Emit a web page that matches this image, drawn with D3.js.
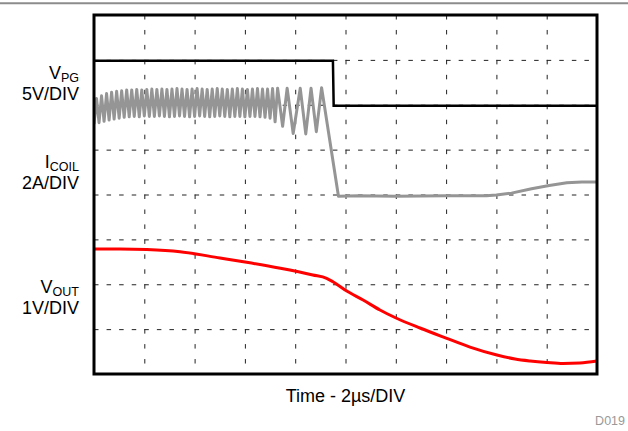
<!DOCTYPE html>
<html>
<head>
<meta charset="utf-8">
<script src="https://cdn.jsdelivr.net/npm/d3@7"></script>
<style>
  html, body { margin: 0; padding: 0; background: #fff; }
  svg { display: block; }
  text { font-family: "Liberation Sans", Arial, Helvetica, sans-serif; }
</style>
</head>
<body>
<svg id="chart" width="628" height="431"></svg>
<script>
// ---------------- data (time in µs, level in screen divisions from bottom) ----------------
const xGridTimes = [2, 4, 6, 8, 10, 12, 14, 16, 18];
const yGridLevels = [1, 2, 3, 4, 5, 6, 7];

const vpgTime  = [0, 9.5, 9.53, 20];
const vpgLevel = [6.98, 6.98, 5.98, 5.98];

const icoilTime = [
  0, 0.1, 0.2, 0.3, 0.4, 0.5, 0.6, 0.7, 0.8, 0.9,
  1.0, 1.1, 1.2, 1.3, 1.4, 1.5, 1.6, 1.7, 1.8, 1.9,
  2.0, 2.1, 2.2, 2.3, 2.4, 2.5, 2.6, 2.7, 2.8, 2.9,
  3.0, 3.1, 3.2, 3.3, 3.4, 3.5, 3.6, 3.7, 3.8, 3.9,
  4.0, 4.1, 4.2, 4.3, 4.4, 4.5, 4.6, 4.7, 4.8, 4.9,
  5.0, 5.1, 5.2, 5.3, 5.4, 5.5, 5.6, 5.7, 5.8, 5.9,
  6.0, 6.1, 6.2, 6.3, 6.4, 6.5, 6.6, 6.7, 6.8, 6.9,
  7.0, 7.1, 7.2, 7.3,
  7.5, 7.68, 7.92, 8.2, 8.42, 8.63, 8.84, 9.05,
  9.72, 10.5, 12.0, 14.0, 15.6, 16.0, 16.6, 17.4, 18.1, 18.8, 19.4, 20.0
];
const icoilLevel = [
  5.57, 6.14, 5.60, 6.20, 5.63, 6.25, 5.66, 6.28, 5.68, 6.30,
  5.70, 6.31, 5.72, 6.33, 5.73, 6.33, 5.74, 6.34, 5.73, 6.33,
  5.75, 6.34, 5.74, 6.35, 5.74, 6.34, 5.75, 6.35, 5.74, 6.34,
  5.73, 6.35, 5.74, 6.36, 5.75, 6.35, 5.74, 6.34, 5.73, 6.35,
  5.74, 6.36, 5.75, 6.35, 5.74, 6.34, 5.73, 6.35, 5.74, 6.36,
  5.75, 6.35, 5.74, 6.34, 5.73, 6.35, 5.74, 6.36, 5.74, 6.35,
  5.73, 6.34, 5.74, 6.35, 5.74, 6.36, 5.73, 6.35, 5.72, 6.35,
  5.70, 6.36, 5.62, 6.37,
  5.52, 6.37, 5.36, 6.37, 5.35, 6.37, 5.40, 6.38,
  3.96, 3.97, 3.96, 3.97, 3.97, 3.99, 4.03, 4.13, 4.20, 4.26, 4.28, 4.28
];

const voutTime  = [0, 1.03, 2.10, 3.42, 5.01, 6.07, 7.41, 8.70, 9.25, 9.50, 10.05, 10.70, 11.37, 12.01, 12.96, 14.0, 14.95, 16.02, 16.74, 17.34, 18.01, 18.65, 19.32, 20.0];
const voutLevel = [2.786, 2.786, 2.774, 2.725, 2.585, 2.489, 2.355, 2.206, 2.133, 2.057, 1.85, 1.649, 1.426, 1.248, 1.025, 0.80, 0.60, 0.423, 0.334, 0.29, 0.256, 0.234, 0.245, 0.29];

// ---------------- layout ----------------
const svg = d3.select("#chart");
const pL = 94, pR = 597, pT = 15, pB = 374;
const W = pR - pL, H = pB - pT;

const x = d3.scaleLinear().domain([0, 20]).range([pL, pR]);
const y = d3.scaleLinear().domain([0, 8]).range([pB, pT]);

// top separator rule
svg.append("line").attr("x1", 0).attr("x2", 628).attr("y1", 3.3).attr("y2", 3.3)
  .attr("stroke", "#8c8c8c").attr("stroke-width", 2);

// grid via axes
const gx = svg.append("g").attr("transform", `translate(0,${pT})`)
  .call(d3.axisTop(x).tickValues(xGridTimes).tickSize(-H).tickFormat(""));
gx.select(".domain").remove();
gx.selectAll(".tick line").attr("stroke", "#222").attr("stroke-width", 1)
  .attr("stroke-dasharray", "4.5," + (H / 24 - 4.5));

const gy = svg.append("g").attr("transform", `translate(${pL},0)`)
  .call(d3.axisLeft(y).tickValues(yGridLevels).tickSize(-W).tickFormat(""));
gy.select(".domain").remove();
gy.selectAll(".tick line").attr("stroke", "#222").attr("stroke-width", 1)
  .attr("stroke-dasharray", "4.5," + (W / 40 - 4.5));

// clip
svg.append("clipPath").attr("id", "clip").append("rect")
  .attr("x", pL).attr("y", pT).attr("width", W).attr("height", H);

const line = d3.line().x(d => x(d[0])).y(d => y(d[1]));
const plot = svg.append("g").attr("clip-path", "url(#clip)");

plot.append("path").datum(d3.zip(icoilTime, icoilLevel)).attr("d", line)
  .attr("fill", "none").attr("stroke", "#959595").attr("stroke-width", 3).attr("stroke-linejoin", "round");
plot.append("path").datum(d3.zip(vpgTime, vpgLevel)).attr("d", line)
  .attr("fill", "none").attr("stroke", "#000").attr("stroke-width", 2.5);
plot.append("path").datum(d3.zip(voutTime, voutLevel))
  .attr("d", d3.line().x(d => x(d[0])).y(d => y(d[1])).curve(d3.curveMonotoneX))
  .attr("fill", "none").attr("stroke", "#ff0000").attr("stroke-width", 3);

// frame
svg.append("rect").attr("x", pL).attr("y", pT).attr("width", W).attr("height", H)
  .attr("fill", "none").attr("stroke", "#000").attr("stroke-width", 3);

// channel labels
function chanLabel(main, sub, scale, yBase) {
  const t = svg.append("text").attr("x", 79).attr("y", yBase).attr("text-anchor", "end")
    .attr("font-size", 18).attr("fill", "#000");
  t.append("tspan").text(main);
  t.append("tspan").attr("font-size", 12.5).attr("dy", 3).text(sub);
  svg.append("text").attr("x", 79).attr("y", yBase + 21).attr("text-anchor", "end")
    .attr("font-size", 18).attr("fill", "#000").text(scale);
}
chanLabel("V", "PG", "5V/DIV", 79);
chanLabel("I", "COIL", "2A/DIV", 168);
chanLabel("V", "OUT", "1V/DIV", 293);

svg.append("text").attr("x", (pL + pR) / 2).attr("y", 402).attr("text-anchor", "middle")
  .attr("font-size", 18).attr("fill", "#000").text("Time - 2µs/DIV");

svg.append("text").attr("x", 625).attr("y", 425).attr("text-anchor", "end")
  .attr("font-size", 12.5).attr("fill", "#999").text("D019");
</script>
</body>
</html>
